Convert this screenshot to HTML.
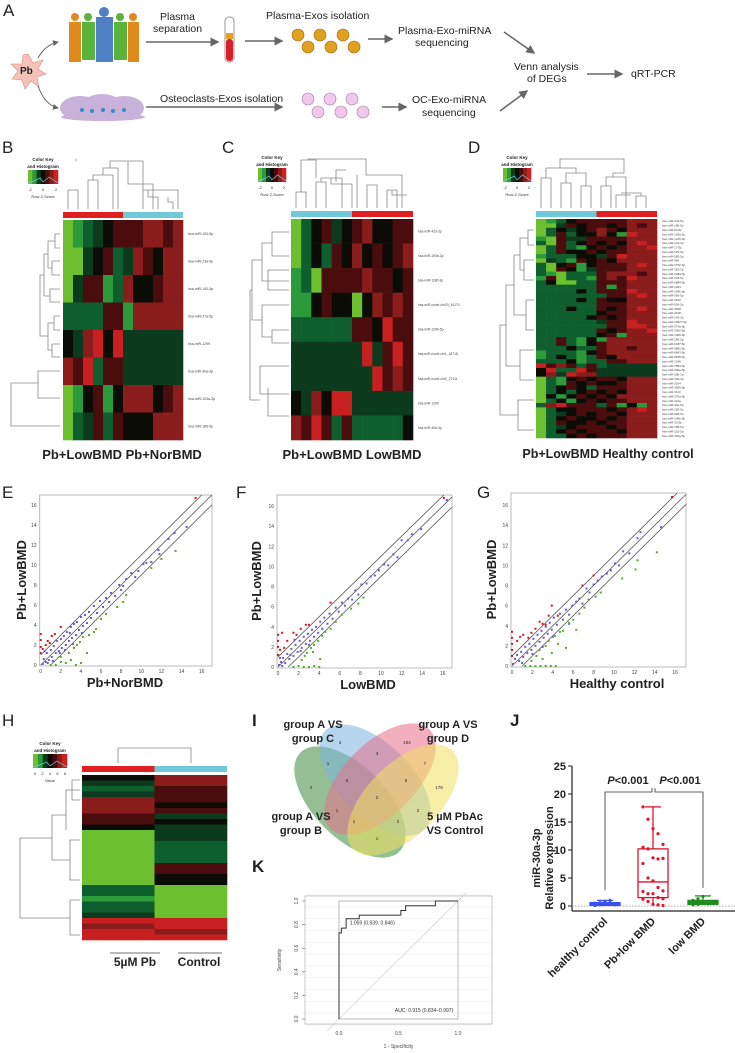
<!DOCTYPE html>
<html><head><meta charset="utf-8"><style>
html,body{margin:0;padding:0;background:#fff;}
svg{display:block;font-family:"Liberation Sans",sans-serif;}
</style></head><body>
<svg id="fig" width="735" height="1053" viewBox="0 0 735 1053" xmlns="http://www.w3.org/2000/svg">
<defs>
<marker id="ah" markerWidth="6" markerHeight="6" refX="5" refY="3" orient="auto"><path d="M0,0 L6,3 L0,6 z" fill="#666"/></marker>
</defs>
<!-- Panel A -->
<g font-size="10.5" fill="#222">
<text x="3" y="16" font-size="17">A</text>
<polygon points="28,54 33,63 43,60 38,69 46,74 37,77 39,87 31,81 25,89 22,80 12,79 18,71 11,64 22,64 23,55" fill="#f4c2b8" stroke="#d88" stroke-width="0.6"/>
<text x="20" y="74" font-weight="bold" font-size="10">Pb</text>
<path d="M38,58 Q45,45 58,42" stroke="#666" fill="none" marker-end="url(#ah)"/>
<path d="M38,86 Q45,105 58,108" stroke="#666" fill="none" marker-end="url(#ah)"/>
<g>
<rect x="69" y="22" width="12" height="40" fill="#e08a1e"/><circle cx="75" cy="17" r="4" fill="#e08a1e"/>
<rect x="82" y="22" width="13" height="38" fill="#5ab43c"/><circle cx="88" cy="17" r="4" fill="#5ab43c"/>
<rect x="96" y="17" width="17" height="45" fill="#4f7fc4"/><circle cx="104" cy="12" r="5" fill="#4f7fc4"/>
<rect x="114" y="22" width="13" height="38" fill="#5ab43c"/><circle cx="120" cy="17" r="4" fill="#5ab43c"/>
<rect x="128" y="22" width="11" height="40" fill="#e08a1e"/><circle cx="133" cy="17" r="4" fill="#e08a1e"/>
</g>
<text x="160" y="20">Plasma</text>
<text x="153" y="32">separation</text>
<line x1="146" y1="42" x2="218" y2="42" stroke="#666" stroke-width="1.5" marker-end="url(#ah)"/>
<rect x="225" y="17" width="9" height="45" rx="4" fill="#fff" stroke="#999"/>
<rect x="226" y="33" width="7" height="6" fill="#e8a020"/><rect x="226" y="39" width="7" height="22" rx="3" fill="#d8202c"/>
<line x1="245" y1="41" x2="282" y2="41" stroke="#666" stroke-width="1.5" marker-end="url(#ah)"/>
<text x="266" y="19">Plasma-Exos isolation</text>
<g fill="#e0a020" stroke="#9a6a10" stroke-width="0.6">
<circle cx="298" cy="35" r="6"/><circle cx="320" cy="35" r="6"/><circle cx="343" cy="35" r="6"/>
<circle cx="308" cy="47" r="6"/><circle cx="331" cy="47" r="6"/><circle cx="354" cy="47" r="6"/>
</g>
<line x1="368" y1="39" x2="392" y2="39" stroke="#666" stroke-width="1.5" marker-end="url(#ah)"/>
<text x="398" y="34">Plasma-Exo-miRNA</text>
<text x="415" y="46">sequencing</text>
<line x1="504" y1="32" x2="534" y2="53" stroke="#666" stroke-width="1.5" marker-end="url(#ah)"/>
<g fill="#c9b2d9">
<ellipse cx="80" cy="108" rx="20" ry="12"/><ellipse cx="102" cy="106" rx="20" ry="12"/><ellipse cx="124" cy="108" rx="20" ry="12"/>
<ellipse cx="103" cy="117" rx="42" ry="4"/>
<circle cx="82" cy="110" r="2" fill="#3a8ac8"/><circle cx="92" cy="111" r="2" fill="#3a8ac8"/><circle cx="103" cy="110" r="2" fill="#3a8ac8"/><circle cx="113" cy="111" r="2" fill="#3a8ac8"/><circle cx="124" cy="110" r="2" fill="#3a8ac8"/>
</g>
<text x="160" y="102">Osteoclasts-Exos isolation</text>
<line x1="146" y1="107" x2="282" y2="107" stroke="#666" stroke-width="1.5" marker-end="url(#ah)"/>
<g fill="#f0c8ec" stroke="#a080a0" stroke-width="0.6">
<circle cx="308" cy="99" r="6"/><circle cx="330" cy="99" r="6"/><circle cx="352" cy="99" r="6"/>
<circle cx="318" cy="112" r="6"/><circle cx="341" cy="112" r="6"/><circle cx="363" cy="112" r="6"/>
</g>
<line x1="382" y1="107" x2="406" y2="107" stroke="#666" stroke-width="1.5" marker-end="url(#ah)"/>
<text x="412" y="103">OC-Exo-miRNA</text>
<text x="422" y="116">sequencing</text>
<line x1="500" y1="111" x2="527" y2="91" stroke="#666" stroke-width="1.5" marker-end="url(#ah)"/>
<text x="514" y="70">Venn analysis</text>
<text x="527" y="82">of DEGs</text>
<line x1="587" y1="74" x2="622" y2="74" stroke="#666" stroke-width="1.5" marker-end="url(#ah)"/>
<text x="631" y="77">qRT-PCR</text>
</g>
<g font-size="17" fill="#222">
<text x="2" y="153">B</text>
<text x="222" y="153">C</text>
<text x="468" y="153">D</text>
<text x="2" y="498">E</text>
<text x="236" y="498">F</text>
<text x="477" y="498">G</text>
<text x="2" y="726">H</text>
<text x="252" y="726" font-weight="bold">I</text>
<text x="252" y="872" font-weight="bold">K</text>
<text x="510" y="726" font-weight="bold">J</text>
</g>
<g id="dyn"></g>
</svg>
<script>
// ===== Heatmap data (palette codes) =====
const paletteCodes = ['G','g','d','e','k','m','r','R'];
const paletteColors = ['#6cbf2f','#2a9a3a','#0f5e2e','#0c3a1c','#0c0c06','#4a0c0c','#8a1c1c','#c82020'];
const heatB = ["Ggdekmmmrrmr","GGekmdermkrr","Gemmgdrkkmrr","ddddmmgrrrrr","kerRkReeeeee","rmRdmmeeeeee","Ggkmgkrrrkmr","Gdemdmkkkrrr"];
const heatBLabels = ["hsa-miR-193-5p","hsa-miR-23a-5p","hsa-miR-140-5p","hsa-miR-27a-5p","hsa-miR-1299","hsa-miR-30a-3p","hsa-miR-103a-3p","hsa-miR-185-5p"];
const heatC = ["Gdkmekmrkkmm","Gdkdmkrkmkmr","gdGmmmmrmmkm","ggkmkkGkrmrm","ddddddmmkRmm","eeeeeeeRemRm","eeeeeeeeRmrm","kerkRReeeeee","rmRmdmdddddk"];
const heatCLabels = ["hsa-miR-423-3p","hsa-miR-193b-3p","hsa-miR-1180-3p","hsa-miR-novel-chr20_34170","hsa-miR-1296-5p","hsa-miR-novel-chr1_18718","hsa-miR-novel-chr2_27411","hsa-miR-1299","hsa-miR-30a-3p"];
const heatD = ["Ggdkmmmmmrrr","GGemkmmkmrmr","Gdkekmrmkrrr","GdmdkkrkgRrr","gGmeemmmmrrr","dGmdkmkmkrRr","GdmdgkmkmrrR","Gdmkkmkmmrrr","gdddkkemRrrr","Gedgmkmkrrrr","dGkmgkmmmrRr","dGmkgemmmrrr","dgGdddmrrrmr","gmGddgmrmRrr","dkGGddmmmrrr","ddddddmgmrrr","ddddkdmmmRrr","dddddddmmrRr","ddddkdmkkrrr","ddddddmmmrrr","dddkddmkmrRr","ddddddkmmrrr","dddddkmkmrrr","ddddddemmRrr","dddddddmmRRr","ddddddmkmrrR","ddddddkmgrrr","ddmdgkgrrrrr","ddmdgkmrrrrr","dddkddmrrmrr","gdddgkmrrrrr","gdkdgdmkrrrr","dddkgddmmrrr","Rmrmdmdeeeee","kRddRmeeeeee","kreRrreeeeee","Gdgkmkmmkrrr","Gdgmkmkkmrrr","Gdkmkdmmmrrr","Gdkdkmkmkrrr","Gkgkmkmkrrrr","Gdkgkmkmmrrr","drRmmmdmgkgr","GdkkmmmkmrRr","Gdekmkmmkrrr","Gdkmkkmkmrrr","Gdmkkmkmmrrr","Gdekmmmkmrrr","Gdkmkmmmkrrr","Gddkmkmmmrrr"];
const heatDLabels = ["hsa-miR-144-5p","hsa-miR-186-5p","hsa-miR-93-5p","hsa-miR-193a-5p","hsa-miR-1226-5p","hsa-miR-144-3p","hsa-miR-17-5p","hsa-miR-576-5p","hsa-miR-582-5p","hsa-miR-484","hsa-miR-4732-5p","hsa-miR-363-3p","hsa-miR-148a-5p","hsa-miR-134-5p","hsa-miR-6884-5p","hsa-miR-1294","hsa-miR-193b-5p","hsa-miR-590-5p","hsa-miR-3150","hsa-miR-92b-5p","hsa-miR-4668","hsa-miR-3198","hsa-miR-142-3p","hsa-miR-10527-5p","hsa-miR-374a-5p","hsa-miR-3065-5p","hsa-miR-1305-5p","hsa-miR-296-5p","hsa-miR-3187-5p","hsa-miR-6882-5p","hsa-miR-6843-5p","hsa-miR-6878-5p","hsa-miR-1246","hsa-miR-7854-5p","hsa-miR-200a-5p","hsa-miR-19b-3p","hsa-miR-30a-3p","hsa-miR-3164","hsa-miR-3655-5p","hsa-miR-3110","hsa-miR-376a-5p","hsa-miR-421a","hsa-miR-30e-5p","hsa-miR-155-5p","hsa-miR-628-5p","hsa-miR-148b-5p","hsa-miR-33-5p","hsa-miR-185-5p","hsa-miR-101-5p","hsa-miR-320a-5p"];
const heatH = ["kr","er","dm","em","rm","rk","rm","me","mk","ke","Ge","Ge","Gd","Gd","Gd","Gd","Gm","Gm","Gk","Gk","dG","dG","gG","dG","dG","eG","RR","rR","Rr","RR"];
// ===== Scatter data =====
const eBlue=[[0.2,0.1],[0.3,0.6],[0.5,0.3],[0.6,1.2],[0.8,0.5],[1,1.5],[1.1,0.8],[1.3,1.9],[1.5,1.2],[1.6,2.4],[1.8,1.4],[2,2.6],[2.1,1.7],[2.3,2.9],[2.5,2],[2.6,3.3],[2.8,2.4],[3,3.8],[3.1,2.7],[3.3,4.1],[3.5,3],[3.6,4.3],[3.8,3.5],[4,4.8],[4.2,3.9],[4.4,5],[4.6,4.2],[4.8,5.3],[5,4.7],[5.3,5.9],[5.6,5.2],[5.9,6.4],[6.2,5.8],[6.5,6.7],[6.8,6.3],[7,7.2],[7.4,6.9],[7.8,8],[8,7.5],[8.2,7.9],[8.5,8.6],[9,9.2],[9.4,8.8],[9.7,9.4],[10.2,10.1],[10.5,10.2],[11,10.3],[11.7,11.5],[11.8,11.1],[12.7,12.6],[13.3,13.2],[14.5,13.8],[1.9,1.2],[2.4,1.5],[3.2,2.1],[4.1,3.2],[0.7,0.2],[1.2,0.4],[0.4,1.4],[2.9,3.2]];
const eRed=[[0,1.2],[0,1.8],[0,2.5],[0,3.1],[0.2,1.6],[0.5,2],[0.7,2.4],[0.9,2.2],[1.1,2.9],[1.4,3.1],[2,3.8],[15.4,16.7]];
const eGreen=[[1.5,0],[2,0.3],[2,0.8],[2.5,0.2],[2.8,1.2],[3,0.5],[3.3,1.7],[3.6,2],[3.9,2.3],[4,0.2],[4.2,2.8],[4.6,1.2],[4.8,3],[5.3,3.3],[5.5,3.6],[6,4.6],[6.5,5.1],[7.6,5.8],[8.2,6.3],[8.5,7],[11,9.7],[12,10.6],[13.4,11.4],[1,0],[3.5,0]];
const fBlue=[[0.1,0.2],[0.3,0.5],[0.5,0.9],[0.7,0.4],[0.9,1.3],[1.1,0.8],[1.3,1.8],[1.5,1.1],[1.7,2.2],[1.9,1.5],[2.1,2.6],[2.3,1.9],[2.5,3],[2.7,2.3],[2.9,3.3],[3.1,2.6],[3.3,3.7],[3.5,3],[3.7,4],[3.9,3.4],[4.1,4.5],[4.3,3.8],[4.5,4.9],[4.8,4.3],[5,5.3],[5.3,4.8],[5.6,5.9],[5.9,5.5],[6.2,6.4],[6.5,6.1],[6.8,6.8],[7.2,6.7],[7.5,7.6],[7.8,7.2],[8.1,8.2],[8.6,8.3],[9,9],[9.4,9.1],[9.8,9.6],[10.3,10.2],[10.7,10.1],[11.2,11.2],[11.6,10.9],[12,12.6],[12.6,12.6],[13,13.2],[13.9,13.7],[16.4,16.6],[0.4,0.1],[1.2,1.2],[2.2,1.6],[3,2.2],[0.2,0.9],[1.6,2.7]];
const fRed=[[0,1.2],[0,2],[0,2.6],[0,3.2],[0.2,1.7],[0.4,3.4],[0.6,1.9],[0.9,2.6],[1.5,3.4],[1.8,3.2],[2.2,3.8],[2.7,4.2],[3,4.2],[5.1,6.4],[16.1,16.8]];
const fGreen=[[1.5,0],[2,0.1],[2.5,0],[3,0],[3.5,0.1],[4,0],[2.3,0.7],[2.8,1.4],[3.2,1.9],[3.5,2.2],[3.9,2.6],[4.1,0.8],[4.3,3.1],[4.6,3.5],[5.1,3.8],[5.6,4.5],[6.2,5.2],[7.1,5.8],[7.8,6.3],[8.3,6.9],[2.6,1.1],[3.4,1.5]];
const gBlue=[[0.1,0.2],[0.3,0.7],[0.5,1.1],[0.7,0.5],[0.9,1.4],[1.1,0.9],[1.3,1.9],[1.5,1.3],[1.7,2.2],[1.9,1.6],[2.1,2.7],[2.3,2],[2.5,3.1],[2.7,2.4],[2.9,3.5],[3.1,2.8],[3.3,3.9],[3.5,3.2],[3.7,4.3],[3.9,3.6],[4.1,4.8],[4.4,4.1],[4.7,5.2],[5,4.6],[5.3,5.6],[5.6,5.1],[5.9,6],[6.3,6.4],[6.6,6.7],[6.9,6.2],[7.3,7.7],[7.6,7.3],[8,8.1],[8.4,8.5],[8.8,8.9],[9.3,9.2],[9.7,9.5],[10.1,10.2],[10.5,10],[10.9,11.4],[11.5,11.2],[12.3,12.7],[12.6,13.3],[14.6,13.8],[15.7,16.8],[1,0.3],[2,1.2],[3,1.9],[4,2.9],[5.6,4.2]];
const gRed=[[0,1],[0,1.6],[0,2.2],[0,2.8],[0,3.4],[0.5,2.5],[0.8,2.9],[1.1,3.1],[1.6,2.8],[1.9,3.3],[2.3,3.7],[2.7,4.4],[3,4.2],[3.3,4.1],[3.6,5],[3.9,6],[4.5,5],[6.9,8],[8,9],[15.7,16.8]];
const gGreen=[[1.3,0],[1.8,0],[2.3,0],[2.8,0],[3.3,0],[3.8,0],[4.3,0],[1.9,0.5],[2.4,1],[2.7,1.6],[3,0.7],[3.3,2],[3.6,2.5],[3.9,1.3],[4.2,3],[4.5,2.2],[4.7,3.4],[5,3.5],[5.3,1.8],[5.6,4.3],[6,4.6],[6.3,3.6],[6.6,5.2],[7.1,5.8],[7.5,6.6],[8.2,6.9],[8.7,7.3],[10.8,8.7],[12.1,9.6],[12.3,10.5],[14.2,11.3]];
const scatterTicks=[0,2,4,6,8,10,12,14,16];
// ===== Venn data =====
const vennCounts=["3","104","3","7","1","0","5","179","2","2","1","2","1","2","1"];
// ===== ROC data =====
const rocFpr=[0,0,0.02,0.02,0.06,0.06,0.17,0.17,0.52,0.52,0.56,0.56,0.81,0.81,1];
const rocTpr=[0,0.73,0.73,0.77,0.77,0.85,0.85,0.88,0.88,0.92,0.92,0.96,0.96,1,1];
const rocTicks=[0,0.2,0.4,0.6,0.8,1.0];
// ===== Box plot data =====
const boxGroups=["healthy control","Pb+low BMD","low BMD"];
const boxMin=[0,0.1,0.2];
const boxQ1=[0.1,1.5,0.3];
const boxMed=[0.3,4.3,0.6];
const boxQ3=[0.6,10.2,1];
const boxMax=[1,17.7,1.8];
const pbDots=[17.7,15.5,13.8,12.9,11,10.5,10.2,8.6,8.4,8.5,7.6,5,4.5,3.3,2.7,2.6,2.2,2.2,1.5,1.3,1.2,0.8,0.3,0.2,0.1];
const hcDots=[0.1,0.2,0.3,0.3,0.4,0.5,0.6,0.8,1.0,0.2,0.4];
const lowDots=[0.2,0.3,0.5,0.6,0.8,1,1.3,1.7,0.4,0.7];
const jTicks=[0,5,10,15,20,25];

const NS="http://www.w3.org/2000/svg";
const root=document.getElementById('dyn');
function mk(tag,attrs,parent){const e=document.createElementNS(NS,tag);for(const k in attrs)e.setAttribute(k,attrs[k]);(parent||root).appendChild(e);return e;}
function txt(s,attrs,parent){const e=mk('text',attrs,parent);e.textContent=s;return e;}
function col(c){return paletteColors[paletteCodes.indexOf(c)];}

function heatmap(rows,x0,y0,w,h,name){
  const g=mk('g',{});
  
  
  const nr=rows.length,nc=rows[0].length,cw=w/nc,rh=h/nr;
  rows.forEach((row,i)=>{for(let j=0;j<nc;j++){
    const r=mk('rect',{x:x0+j*cw,y:y0+i*rh,width:cw+0.3,height:rh+0.3,fill:col(row[j])},g);
    
    
  }});
  return {cw,rh};
}
function rowLabels(labels,x,y0,h,fs){
  const rh=h/labels.length;
  labels.forEach((l,i)=>{
    const t=txt(l,{x:x,y:y0+(i+0.5)*rh+fs*0.35,'font-size':fs,fill:'#444'});
    
    
  });
}
function colorKey(x,y,w,h,labelText,ticks){
  const g=mk('g',{});
  
  
  const stops=['#6cbf2f','#2a9a3a','#0c3a1c','#0c0c06','#4a0c0c','#8a1c1c','#d02020'];
  stops.forEach((c,i)=>mk('rect',{x:x+i*w/stops.length,y:y,width:w/stops.length+0.3,height:h,fill:c},g));
  mk('polyline',{points:`${x},${y+h-1} ${x+w*0.2},${y+h-3} ${x+w*0.4},${y+h-6} ${x+w*0.5},${y+h-2} ${x+w*0.7},${y+h-7} ${x+w},${y+h-1}`,fill:'none',stroke:'#6cd0e0','stroke-width':0.7},g);
  txt('Color Key',{x:x+w/2,y:y-9,'font-size':4.5,'text-anchor':'middle',fill:'#222','font-weight':'bold'},g);
  txt('and Histogram',{x:x+w/2,y:y-2,'font-size':4.5,'text-anchor':'middle',fill:'#222','font-weight':'bold'},g);
  ticks.forEach((t,i)=>txt(t,{x:x+2+i*(w-4)/(ticks.length-1),y:y+h+7,'font-size':4,'text-anchor':'middle',fill:'#333'},g));
  txt(labelText,{x:x+w/2,y:y+h+14,'font-size':4,'text-anchor':'middle',fill:'#333'},g);
}
function groupBar(x,y,w,leftColor,rightColor,split){
  const a=mk('rect',{x:x,y:y,width:w*split,height:6,fill:leftColor});
  
  
  const b=mk('rect',{x:x+w*split,y:y,width:w*(1-split),height:6,fill:rightColor});
  
  
}
function path(d,name,parent){const p=mk('path',{d:d,fill:'none',stroke:'#888','stroke-width':0.8},parent);return p;}

// ---- B ----
heatmap(heatB,63,220,120,220,'heatmap-b');
rowLabels(heatBLabels,188,220,220,3.5);
groupBar(63,212,120,'#e02020','#70c8d8',0.5);
colorKey(28,170,30,14,'Row Z-Score',['-2','0','2']);
path('M68,209 V190 H78 V209 M88,209 V180 H98 V209 M93,180 V175 H113 V209 M103,175 V168 H118 V209 M110,168 V161 H143 V209 M128,161 V184 H153 V209 M143,184 V190 H178 V209 M148,190 V197 H158 V209 M168,197 V202 H173 V209 M76,161 V159','dendro-col-b');
path('M60,234 H55 V248 H60 M60,261 H52 V275 H60 M60,289 H50 V302 H60 M55,241 H48 V268 H52 M50,296 H44 V254 H48 M60,316 H54 V330 H60 M60,344 H52 V357 H60 M54,323 H48 V350 H52 M60,371 H38 V398 H60 M60,426 H11 V383 H38 M48,336 H40 V275 H44','dendro-row-b');
txt('Pb+LowBMD Pb+NorBMD',{x:122,y:459,'font-size':13,'font-weight':'bold','text-anchor':'middle',fill:'#222'});
// ---- C ----
heatmap(heatC,291,219,122,221,'heatmap-c');
rowLabels(heatCLabels,418,219,221,3.3);
groupBar(291,211,122,'#70c8d8','#e02020',0.5);
colorKey(258,168,28,14,'Row Z-Score',['-2','0','2']);
path('M296,208 V192 H306 V208 M316,208 V182 H326 V208 M321,182 V178 H342 V208 M331,178 V184 H352 V208 M336,182 V170 H346 M301,192 V160 H316 V178 M308,160 V159 H366 V175 H402 V208 M357,208 V175 M367,208 V185 H377 V208 M387,208 V190 H397 V208 M392,190 V195 H407','dendro-col-c');
path('M289,232 H272 V256 H289 M289,256 M289,270 H268 V290 H289 M289,281 H262 V243 H272 M289,330 H272 V343 H289 M289,366 H260 V394 H289 M289,416 H268 V388 M289,305 H262 V337 H272 M262,320 H252 V260 H262 M252,290 H250 M250,290 V400 H260','dendro-row-c');
txt('Pb+LowBMD LowBMD',{x:352,y:459,'font-size':13,'font-weight':'bold','text-anchor':'middle',fill:'#222'});
// ---- D ----
heatmap(heatD,536,219,121,219,'heatmap-d');
rowLabels(heatDLabels,662,219,219,3);
groupBar(536,211,121,'#70c8d8','#e02020',0.5);
colorKey(503,168,28,14,'Row Z-Score',['-2','0','2']);
path('M541,208 V178 H551 V208 M561,208 V183 H571 V208 M581,208 V186 H591 V208 M566,183 V173 H586 V186 M546,178 V168 H576 V173 M586,208 M601,208 V186 H611 V208 M606,186 V177 H626 V208 M616,208 V195 H631 M636,208 V196 H646 V208 M641,196 V193 H621 M613,177 V173 H624 M560,168 V159 H624 V173','dendro-col-d');
path('M534,230 H528 V245 H534 M534,260 H524 V280 H534 M528,238 H520 V270 H524 M534,300 H526 V330 H534 M520,255 H514 V315 H526 M534,350 H520 V380 H534 M514,285 H506 V366 H520 M534,400 H518 V430 H534 M518,415 H500 V325 H506','dendro-row-d');
txt('Pb+LowBMD Healthy control',{x:608,y:458,'font-size':12.5,'font-weight':'bold','text-anchor':'middle',fill:'#222'});

// ---- Scatter plots ----
function scatter(name,bx0,by0,ppx,ppy,right,top,blue,red,green,xlab,ylab,ylx,xlx){
  const g=mk('g',{});
  
  
  const X=v=>bx0+v*ppx, Y=v=>by0-v*ppy;
  const frame=mk('rect',{x:bx0-1,y:top,width:right-bx0+1,height:by0-top+1,fill:'none',stroke:'#aaa','stroke-width':0.8},g);
  
  
  scatterTicks.forEach(t=>{
    const tx=txt(String(t),{x:X(t),y:by0+8,'font-size':5,'text-anchor':'middle',fill:'#444'},g);
    
    
    const ty=txt(String(t),{x:bx0-4,y:Y(t)+2,'font-size':5,'text-anchor':'end',fill:'#444'},g);
    
    
  });
  const vmax=(right-bx0)/ppx, vmaxY=(by0-top)/ppy;
  [-1,0,1].forEach(o=>{
    const x1=Math.max(0,-o), x2=Math.min(vmax,vmaxY-o);
    const l=mk('line',{x1:X(x1),y1:Y(x1+o),x2:X(x2),y2:Y(x2+o),stroke:'#555','stroke-width':0.8},g);
    
    
  });
  [[blue,'#6a5acd','blue-point'],[red,'#d8141e','red-point'],[green,'#58a830','green-point']].forEach(([arr,c,n])=>{
    arr.forEach(p=>{
      const d=mk('rect',{x:X(p[0])-1,y:Y(p[1])-1,width:2,height:2,fill:c},g);
      
      
    });
  });
  const xl=txt(xlab,{x:xlx,y:by0+22,'font-size':13,'font-weight':'bold','text-anchor':'middle',fill:'#222'},g);
  
  
  const cy=(by0+top)/2;
  const yl=txt(ylab,{x:ylx,y:cy,'font-size':13,'font-weight':'bold','text-anchor':'middle',fill:'#222',transform:`rotate(-90 ${ylx} ${cy})`},g);
  
  
}
scatter('scatter-e',40.7,665,10.06,10,212,495,eBlue,eRed,eGreen,'Pb+NorBMD','Pb+LowBMD',26,125);
scatter('scatter-f',278,667,10.3,10.06,452,495,fBlue,fRed,fGreen,'LowBMD','Pb+LowBMD',261,368);
scatter('scatter-g',512,666,10.2,10.06,686,493,gBlue,gRed,gGreen,'Healthy control','Pb+LowBMD',496,617);

// ---- H ----
heatmap(heatH,82,775,145,165,'heatmap-h');
groupBar(82,766,145,'#e02020','#70c8d8',0.5);
colorKey(33,754,34,14,'Value',['0','2','4','6','8']);
path('M118,763 V748 H191 V763','dendro-col-h');
path('M80,780 H72 V800 H80 M80,790 H66 V830 M80,840 H70 V880 H80 M70,860 H52 V815 H66 M80,900 H70 V935 H80 M70,918 H20 V838 H52','dendro-row-h');
txt('5µM Pb',{x:135,y:966,'font-size':12,'font-weight':'bold','text-anchor':'middle',fill:'#222'});
txt('Control',{x:199,y:966,'font-size':12,'font-weight':'bold','text-anchor':'middle',fill:'#222'});
mk('line',{x1:110,y1:953,x2:160,y2:953,stroke:'#444','stroke-width':0.8});
mk('line',{x1:178,y1:953,x2:222,y2:953,stroke:'#444','stroke-width':0.8});

// ---- I Venn ----
const vg=mk('g',{});


[['#3c8a3c',350,802,45,'venn-group-b'],['#78b4dc',375,780,45,'venn-group-c'],['#e8708a',380,779,-45,'venn-group-d'],['#f0e060',403,800,-45,'venn-pbac']].forEach(([c,cx,cy,rot,n])=>{
  const e=mk('ellipse',{cx:cx,cy:cy,rx:70,ry:36,fill:c,'fill-opacity':0.55,transform:`rotate(${rot} ${cx} ${cy})`},vg);
  
  
});
const vennPos=[[340,742],[407,742],[377,753],[425,763],[328,763],[347,780],[406,780],[439,787],[311,787],[377,797],[337,810],[418,810],[354,821],[398,821],[377,838]];
vennCounts.forEach((s,i)=>{
  const t=txt(s,{x:vennPos[i][0],y:vennPos[i][1]+2,'font-size':4.5,'text-anchor':'middle',fill:'#222'},vg);
  
  
});
[['group A VS',313,728],['group C',313,742],['group A VS',448,728],['group D',448,742],['group A VS',301,820],['group B',301,834],['5 µM PbAc',455,820],['VS Control',455,834]].forEach(([s,x,y])=>{
  const t=txt(s,{x:x,y:y,'font-size':11,'font-weight':'bold','text-anchor':'middle',fill:'#222'},vg);
  
  
});

// ---- K ROC ----
const kg=mk('g',{});


const RX=v=>339+v*119, RY=v=>1019-v*118;
for(let v=-0.05;v<=1.05;v+=0.1){mk('line',{x1:305,x2:492,y1:RY(v),y2:RY(v),stroke:'#eee','stroke-width':0.6},kg);}
mk('rect',{x:305,y:896,width:187,height:128,fill:'none',stroke:'#bbb','stroke-width':0.8},kg);
mk('rect',{x:RX(0),y:RY(1),width:119,height:118,fill:'none',stroke:'#aaa','stroke-width':0.8},kg);
mk('line',{x1:RX(-0.1),y1:RY(-0.1),x2:RX(1.07),y2:RY(1.07),stroke:'#ccc','stroke-width':0.6},kg);
let rp='';rocFpr.forEach((f,i)=>{rp+=(i?'L':'M')+RX(f)+','+RY(rocTpr[i]);});
const rocLine=mk('path',{d:rp,fill:'none',stroke:'#333','stroke-width':1},kg);


rocTicks.forEach(t=>{
  mk('line',{x1:302,x2:305,y1:RY(t),y2:RY(t),stroke:'#666','stroke-width':0.6},kg);
  const lbl=txt(t.toFixed(1),{x:298,y:RY(t),'font-size':5,'text-anchor':'middle',fill:'#444',transform:`rotate(-90 298 ${RY(t)})`},kg);
  
  
});
[0,0.5,1].forEach(t=>{
  const lbl=txt(t.toFixed(1),{x:RX(t),y:1035,'font-size':5,'text-anchor':'middle',fill:'#444'},kg);
  
  
});
txt('1 - Specificity',{x:RX(0.5),y:1048,'font-size':5,'text-anchor':'middle',fill:'#444'},kg);
txt('Sensitivity',{x:281,y:960,'font-size':5,'text-anchor':'middle',fill:'#444',transform:'rotate(-90 281 960)'},kg);
txt('1.059 (0.939, 0.846)',{x:RX(0.09),y:RY(0.8),'font-size':5,fill:'#333'},kg);
txt('AUC: 0.915 (0.834–0.997)',{x:RX(0.96),y:RY(0.06),'font-size':5,'text-anchor':'end',fill:'#333'},kg);

// ---- J box plot ----
const jg=mk('g',{});


const JY=v=>906-v*5.6;
const jx=[605,653,703];
const jc=['#3a50f0','#e0142c','#1e8c1e'];
mk('line',{x1:572,y1:JY(25),x2:572,y2:911,stroke:'#222','stroke-width':1.2},jg);
mk('line',{x1:572,y1:911,x2:735,y2:911,stroke:'#222','stroke-width':1.2},jg);
mk('line',{x1:572,y1:JY(0),x2:735,y2:JY(0),stroke:'#888','stroke-width':0.8,'stroke-dasharray':'1.5,1.5'},jg);
jTicks.forEach(t=>{
  mk('line',{x1:568,x2:572,y1:JY(t),y2:JY(t),stroke:'#222','stroke-width':1},jg);
  const l=txt(String(t),{x:566,y:JY(t)+4,'font-size':11,'font-weight':'bold','text-anchor':'end',fill:'#222'},jg);
  
  
});
const ylab1=txt('miR-30a-3p',{x:540,y:858,'font-size':11,'font-weight':'bold','text-anchor':'middle',fill:'#222',transform:'rotate(-90 540 858)'},jg);


const ylab2=txt('Relative expression',{x:553,y:858,'font-size':11,'font-weight':'bold','text-anchor':'middle',fill:'#222',transform:'rotate(-90 553 858)'},jg);


boxGroups.forEach((gname,i)=>{
  const x=jx[i],c=jc[i];
  const w=mk('line',{x1:x,x2:x,y1:JY(boxMin[i]),y2:JY(boxMax[i]),stroke:c,'stroke-width':1.3},jg);
  
  
  mk('line',{x1:x-8,x2:x+8,y1:JY(boxMax[i]),y2:JY(boxMax[i]),stroke:c,'stroke-width':1.3},jg);
  const b=mk('rect',{x:x-15,y:JY(boxQ3[i]),width:30,height:JY(boxQ1[i])-JY(boxQ3[i]),fill:i==1?'#fff':c,stroke:c,'stroke-width':1.3},jg);
  
  
  mk('line',{x1:x-15,x2:x+15,y1:JY(boxMed[i]),y2:JY(boxMed[i]),stroke:c,'stroke-width':1.3},jg);
  const lx=x+3, ly=922;
  const t=txt(gname,{x:lx,y:ly,'font-size':11,'font-weight':'bold','text-anchor':'end',fill:'#222',transform:`rotate(-45 ${lx} ${ly})`},jg);
  
  
});
[[hcDots,0],[pbDots,1],[lowDots,2]].forEach(([arr,gi])=>{
  arr.forEach((v,k)=>{
    const off=((k%5)-2)*5;
    const d=mk('circle',{cx:jx[gi]+off,cy:JY(v),r:1.6,fill:jc[gi]},jg);
    
    
  });
});
path('M605,'+(JY(boxMax[0])-10)+' V792 H652 V788 M655,788 V792 H703 V'+(JY(boxMax[2])-8),'significance-bracket',jg).setAttribute('stroke','#333');
[['P<0.001',628],['P<0.001',680]].forEach(([s,x])=>{
  const t=txt('',{x:x,y:784,'font-size':11,'font-weight':'bold','text-anchor':'middle',fill:'#222'},jg);
  
  
  const a=document.createElementNS(NS,'tspan');a.setAttribute('font-style','italic');a.textContent='P';t.appendChild(a);
  const b2=document.createElementNS(NS,'tspan');b2.textContent='<0.001';t.appendChild(b2);
});
</script>
</body></html>
